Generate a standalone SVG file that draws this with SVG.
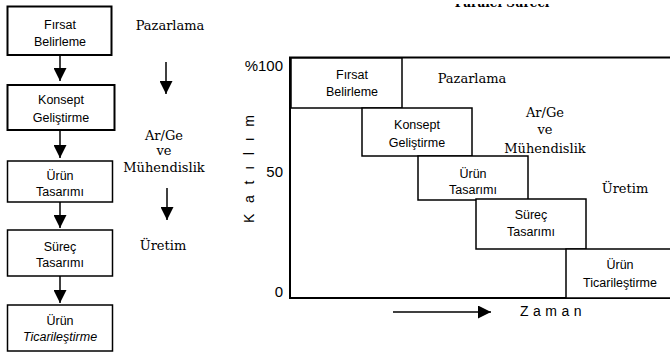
<svg xmlns="http://www.w3.org/2000/svg" width="670" height="352" viewBox="0 0 670 352">
<style>
.box{fill:#fff;stroke:#000;stroke-width:1.5}
.bx2{fill:#fff;stroke:#000;stroke-width:2}
.t{font-family:"Liberation Sans",Arial,sans-serif;font-size:12.5px;fill:#000;text-anchor:middle}
.s{font-family:"DejaVu Serif","Liberation Serif",serif;font-size:13px;fill:#000;text-anchor:middle}
.ax{font-family:"Liberation Sans",Arial,sans-serif;font-size:15px;fill:#000}
.ln{stroke:#000;stroke-width:1.5;fill:none}
.axl{stroke:#000;stroke-width:2;fill:none}
</style>
<defs>
<marker id="ahb" viewBox="0 0 10 10" refX="10" refY="5" markerWidth="13" markerHeight="13" markerUnits="userSpaceOnUse" orient="auto">
<path d="M0,0 L10,5 L0,10 Z" fill="#000"/>
</marker>
<clipPath id="tc"><rect x="0" y="4" width="670" height="10"/></clipPath>
</defs>
<rect width="670" height="352" fill="#fff"/>

<text x="502" y="7" clip-path="url(#tc)" font-family="DejaVu Serif,serif" font-weight="bold" font-size="12" text-anchor="middle">Paralel Süreci</text>

<!-- left column -->
<g id="l1"><rect class="bx2" x="7.5" y="6.5" width="104" height="48.5"/><text class="t" x="60" y="29">Fırsat</text><text class="t" x="60" y="46">Belirleme</text></g>
<g id="l2"><rect class="bx2" x="7.5" y="85" width="107" height="45"/><text class="t" x="61" y="104">Konsept</text><text class="t" x="61" y="122">Geliştirme</text></g>
<g id="l3"><rect class="box" x="7.5" y="161" width="105" height="41"/><text class="t" x="60" y="180">Ürün</text><text class="t" x="60" y="196">Tasarımı</text></g>
<g id="l4"><rect class="box" x="7.5" y="230" width="105" height="46"/><text class="t" x="60" y="251">Süreç</text><text class="t" x="60" y="267">Tasarımı</text></g>
<g id="l5"><rect class="box" x="7.5" y="305" width="105" height="46"/><text class="t" x="60" y="325">Ürün</text><text class="t" x="60" y="341" font-style="italic">Ticarileştirme</text></g>

<g id="connectors">
<line class="ln" x1="60" y1="55" x2="60" y2="81" marker-end="url(#ahb)"/>
<line class="ln" x1="60" y1="130" x2="60" y2="158" marker-end="url(#ahb)"/>
<line class="ln" x1="60" y1="202" x2="60" y2="228" marker-end="url(#ahb)"/>
<line class="ln" x1="60" y1="276" x2="60" y2="303" marker-end="url(#ahb)"/>
<line class="ln" x1="166" y1="62" x2="166" y2="94" marker-end="url(#ahb)"/>
<line class="ln" x1="167" y1="188" x2="167" y2="220" marker-end="url(#ahb)"/>
<line class="ln" x1="393" y1="312" x2="491" y2="312" marker-end="url(#ahb)"/>
</g>

<!-- middle labels -->
<g id="mid">
<text class="s" x="170" y="30">Pazarlama</text>
<text class="s" x="164" y="140">Ar/Ge</text>
<text class="s" x="164" y="155">ve</text>
<text class="s" x="164" y="172">Mühendislik</text>
<text class="s" x="163" y="250">Üretim</text>
</g>

<!-- chart -->
<g id="axes">
<line class="axl" x1="290" y1="57" x2="290" y2="299"/>
<line class="axl" x1="289" y1="57.5" x2="670" y2="57.5"/>
<line class="axl" x1="289" y1="298" x2="670" y2="298"/>
<text class="ax" x="283" y="71" text-anchor="end">%100</text>
<text class="ax" x="283" y="177" text-anchor="end">50</text>
<text class="ax" x="283" y="297" text-anchor="end">0</text>
<text x="254" y="223" transform="rotate(-90 254 223)" font-family="Liberation Sans,Arial,sans-serif" font-size="14" textLength="108" lengthAdjust="spacing">Katılım</text>
<text x="520" y="316" font-family="Liberation Sans,Arial,sans-serif" font-size="14" letter-spacing="4.5">Zaman</text>
</g>

<g id="c1"><rect class="box" x="291" y="58" width="111" height="50"/><text class="t" x="352" y="79">Fırsat</text><text class="t" x="352" y="96">Belirleme</text></g>
<g id="c2"><rect class="box" x="362" y="108" width="110" height="48"/><text class="t" x="417" y="129">Konsept</text><text class="t" x="417" y="147">Geliştirme</text></g>
<g id="c3"><rect class="box" x="418" y="156" width="110" height="44"/><text class="t" x="473" y="178">Ürün</text><text class="t" x="473" y="194">Tasarımı</text></g>
<g id="c4"><rect class="box" x="476" y="199" width="110" height="50"/><text class="t" x="531" y="219">Süreç</text><text class="t" x="531" y="236">Tasarımı</text></g>
<g id="c5"><rect class="box" x="566" y="249" width="110" height="49"/><text class="t" x="620" y="269">Ürün</text><text class="t" x="620" y="287">Ticarileştirme</text></g>

<g id="chartlabels">
<text class="s" x="472" y="83">Pazarlama</text>
<text class="s" x="545" y="117">Ar/Ge</text>
<text class="s" x="545" y="134">ve</text>
<text class="s" x="545" y="153">Mühendislik</text>
<text class="s" x="625" y="193">Üretim</text>
</g>
</svg>
